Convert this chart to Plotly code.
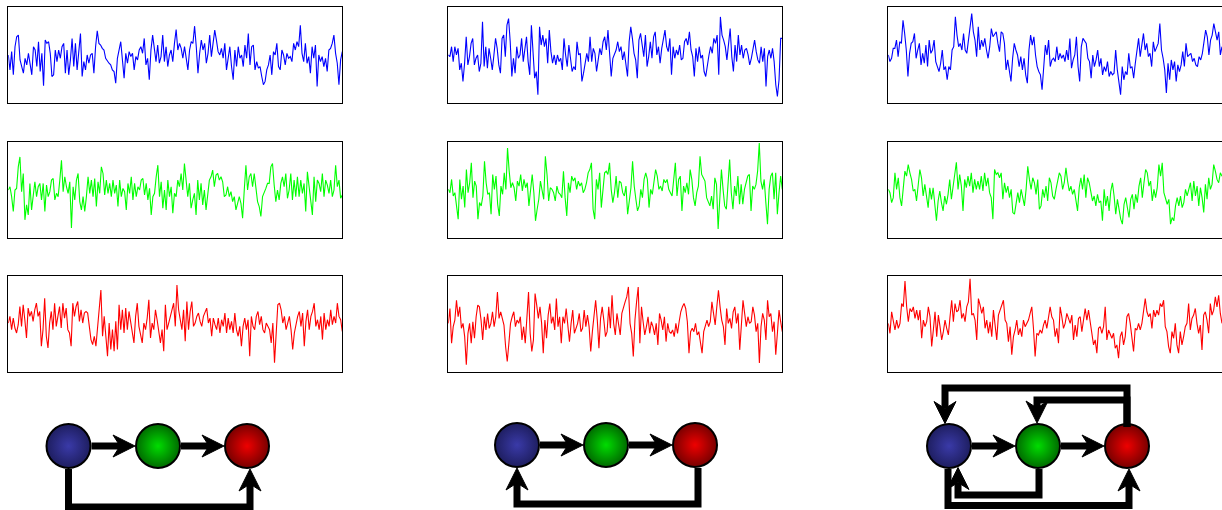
import plotly.graph_objects as go

# ---------------- time-series data (arbitrary units, panel range +-145) ----------------
blue_1 = [1,-44,11,-59,26,56,61,-14,-34,-54,-9,-29,6,-24,-59,26,16,-34,41,-49,6,-92,46,36,41,6,-64,-59,16,-19,16,-9,26,36,-54,16,-59,-14,51,-34,36,-44,16,66,-64,-19,-44,1,-24,1,6,-54,26,74,36,31,21,16,-9,-19,-24,-29,-44,-49,-84,-9,16,41,-14,-69,6,-24,11,-4,6,-44,-4,-14,16,26,6,51,-29,-9,-74,16,61,16,-19,31,-24,-4,61,-19,26,-34,1,16,-19,36,78,16,36,21,-9,26,-9,-44,16,41,36,88,26,-54,6,46,16,36,-24,6,61,-4,36,76,46,11,1,21,-9,36,-44,-9,26,-34,-74,16,-34,26,-9,1,-34,31,-9,66,-29,26,31,-44,-19,-39,-34,-64,-89,-79,-44,-29,1,-59,11,1,36,-34,-44,16,1,-29,6,-9,-4,-19,36,16,41,26,91,6,-19,36,-24,-4,-54,26,-9,31,-94,1,-19,-4,-34,-9,-49,16,21,36,61,6,-24,-89,-14,11]
green_1 = [-1,9,-21,-66,-1,4,69,99,-6,49,-91,-46,-76,19,-61,-21,24,-21,9,19,-31,19,-66,14,-21,-6,29,34,-31,-11,-21,29,89,-6,39,9,-11,24,-116,9,-31,29,49,-36,-61,-21,-66,-21,39,-11,29,-21,34,-51,24,-11,69,49,-16,29,-11,19,-21,29,-11,14,-51,29,-21,4,-6,-61,19,-11,39,-31,19,-21,9,-1,29,34,-16,19,-31,4,-76,-21,-11,39,74,-21,24,-56,-1,-61,29,-21,9,-71,-11,-21,29,9,49,-1,79,29,-21,19,-56,-31,-11,-76,29,-31,19,-46,-1,-61,-21,29,39,59,9,44,49,29,39,24,-21,-16,9,-21,-6,-36,-21,-61,-41,-21,-41,-86,-1,74,-1,39,49,9,49,4,-36,-51,-81,-21,-11,4,19,19,69,79,14,-36,-1,-31,19,39,9,49,-26,-1,49,-31,29,-21,39,-21,29,-11,19,-66,54,14,-21,-76,39,-36,29,19,-6,49,-21,29,14,-11,29,-21,-1,74,9,29,-26,-16]
red_1 = [2,22,-18,17,-13,-28,-3,52,-8,57,12,-43,47,22,37,7,42,62,22,37,-68,-18,77,-38,-73,2,37,-18,62,-8,22,52,-13,62,17,47,-18,-28,-68,62,22,52,67,7,42,2,32,37,32,-8,-48,-63,-38,-68,-18,42,102,-38,22,-38,-98,2,-78,-18,-83,7,-78,57,-18,42,-28,47,-18,37,2,-33,-58,22,62,-8,-33,-58,2,-18,17,72,-43,2,-18,42,12,-28,-58,-18,-83,57,-18,2,22,37,62,-8,117,42,7,-18,42,-53,67,-18,37,67,-8,2,22,32,7,-8,22,37,47,2,17,-38,17,-3,-18,17,-28,12,-8,32,-28,17,-18,7,-28,32,-18,-38,-8,-68,-8,17,-18,12,-98,22,-8,-18,22,37,-3,22,-18,-28,2,-8,-18,-58,2,-118,-18,57,62,42,2,22,-18,7,22,-18,-78,-28,2,22,37,-8,32,-68,7,42,-18,22,37,62,-8,12,-18,22,-48,32,-18,12,-8,42,-3,22,2,62,22,12,-23]

blue_2 = [1,-4,26,-19,26,1,21,-44,-24,-79,-24,56,-29,-4,36,51,-29,-9,1,-49,-24,101,-34,26,-39,21,-9,-44,1,51,21,-29,-54,51,61,-4,91,111,41,-64,-9,-54,26,-9,1,51,-19,26,56,-19,-59,91,21,-69,-49,-119,86,31,61,26,51,-24,76,11,-24,1,-29,1,-19,-9,-44,51,1,-34,31,-19,-49,-34,-44,41,1,6,-79,-54,-24,6,-19,56,-19,21,6,-49,-14,21,1,41,56,16,76,1,-64,-9,1,16,41,11,26,-14,11,-24,-64,41,86,51,6,-14,-69,46,66,31,-4,61,-34,-4,41,-9,56,71,1,26,-24,21,46,76,26,11,51,-59,26,-9,16,1,31,-14,-9,41,51,31,71,16,-4,-64,21,-19,26,-9,1,-49,-64,-24,1,26,6,51,36,61,-59,116,61,46,26,-14,41,81,-4,-49,31,-19,61,1,31,-9,16,21,1,-29,-9,26,46,11,-14,-24,26,-19,21,-94,-4,16,-9,21,-19,-89,-124,-74,51,51]
green_2 = [1,-9,31,-19,-9,-49,-89,31,-29,11,-54,61,-9,21,81,-24,26,11,-89,-39,-49,-19,86,21,-14,-9,-74,46,1,41,-44,-79,11,-14,51,1,126,56,6,21,6,-34,26,11,46,-4,31,6,21,-49,1,46,-9,-94,-59,-29,26,1,-29,101,46,-34,6,1,-9,-34,11,-9,-14,-24,56,-24,-79,21,-9,41,26,36,1,26,11,21,-9,1,21,51,61,81,-59,-89,31,1,51,-54,-4,51,56,46,81,1,-39,-9,41,-24,26,21,-9,-19,11,-74,-34,6,86,11,-29,-64,-49,1,-24,31,51,31,-54,1,-14,21,61,41,1,11,-4,31,21,31,1,-9,-19,31,81,-19,31,41,-64,11,-9,21,-14,61,31,-24,-49,-9,11,101,46,36,26,-24,-39,-49,-19,-59,36,16,-119,-29,61,1,-49,-59,21,91,-9,-59,11,-19,41,-44,16,-44,1,21,41,46,-64,11,1,16,56,141,26,1,31,-39,-104,1,41,51,-29,51,-74,-9,41,1]
red_2 = [1,46,-59,-9,11,71,21,51,-14,1,-39,-124,-29,1,-59,6,-44,21,56,51,11,-49,21,-19,31,-14,1,36,-9,21,96,16,36,11,-4,-69,-114,-59,1,21,36,-9,11,1,21,-49,-9,-59,31,96,-29,-84,-49,91,56,16,51,1,-89,11,-44,26,61,1,21,-19,76,-9,21,-59,21,1,46,-9,-54,1,41,-29,-14,1,31,-24,-14,41,-9,26,-9,-84,-24,21,71,11,-74,16,51,11,-39,-24,51,-14,86,1,-34,31,-9,-34,31,51,66,81,111,1,-29,-99,11,66,111,-59,51,6,-34,-9,21,-29,6,-9,-34,1,-64,31,11,-19,21,-54,1,-24,-29,-19,-39,1,-29,6,36,51,61,46,6,-89,-24,-14,-24,1,-34,-24,-59,-89,-24,-9,11,-9,6,66,26,-4,51,101,51,11,-9,-64,46,1,16,-14,36,51,1,31,-79,-9,71,31,-9,21,1,6,51,26,-24,1,-119,-9,31,11,-49,71,21,31,-24,6,-94,-29,41,6,-24]

blue_3 = [1,-19,-9,21,21,46,-4,41,36,106,66,16,-64,6,36,41,66,-9,16,36,-29,6,-24,31,-34,46,6,16,46,-19,-34,-49,-24,16,-44,-34,-74,-34,-44,16,26,116,61,26,36,16,66,16,6,41,76,126,71,46,-4,86,16,46,26,51,16,-9,26,81,56,66,71,36,11,71,66,36,-44,-14,-54,-79,-9,36,16,1,-34,-4,-44,-9,-59,-84,16,61,31,56,1,-34,-49,-59,-104,-24,31,1,46,-34,-14,-9,-19,26,-14,6,-9,1,-19,16,-14,51,-39,-14,1,56,-34,-79,26,51,41,36,-9,-19,-69,1,-34,-14,16,-34,-9,-59,-34,-49,-19,-64,-49,-59,-54,16,-44,-89,-119,-34,-74,-49,-59,6,-39,-34,-69,-24,11,51,-4,26,66,16,36,-4,6,-34,41,11,26,36,96,16,-9,-44,-114,-24,-74,-14,-44,-19,-79,-29,-49,-29,11,-34,36,-4,1,6,-19,-9,-29,-34,-4,-14,6,36,76,56,1,46,61,96,71,46,71,1,26]
green_3 = [1,-9,-39,-24,51,1,36,-24,-49,1,56,41,76,51,31,-4,1,-34,26,61,36,-19,16,-29,-54,6,-29,6,-49,-94,-34,-4,-39,-64,-19,-44,-14,31,-29,6,51,83,1,46,11,-64,31,6,41,11,51,-9,31,1,26,1,41,-4,51,11,36,-9,-24,-89,61,46,51,36,51,-29,21,-9,11,-24,1,-69,-74,-34,-9,-39,1,-24,-49,1,71,31,1,36,21,-14,31,-59,-49,1,-24,11,-34,36,21,-19,-29,1,26,51,41,1,21,66,26,-4,11,-14,1,-34,-64,6,36,1,46,-24,36,21,-9,-34,-19,-49,-14,-39,-34,-94,1,-49,-19,-64,-4,21,-19,-74,-29,-64,-89,-104,-44,-24,-54,-84,-29,-14,-59,-14,-39,11,36,-24,21,61,51,11,26,-34,1,-24,6,76,41,81,-9,-24,-44,-29,-104,-84,-94,-49,-24,-49,-19,-54,-39,1,-19,1,21,-34,26,-19,11,-49,6,-24,-69,16,-29,36,1,16,76,56,31,21,51,41]
red_3 = [1,-29,36,11,-19,11,-14,1,61,51,129,51,6,46,36,51,16,41,11,41,-44,11,-9,6,51,21,-69,-19,36,-39,26,-9,-49,-24,11,-14,-34,21,71,6,61,36,41,71,16,31,6,51,66,136,26,31,11,-49,76,56,31,51,-14,11,-29,6,-39,41,1,-49,26,41,56,71,11,1,-54,-9,-94,-39,-19,11,-34,-14,-39,11,-9,1,11,31,51,-14,-99,-29,-34,-19,-29,-4,11,-14,16,51,21,11,-39,-14,-59,51,21,-14,1,31,16,1,26,-49,-4,-39,16,21,-24,21,46,11,41,6,-39,-64,-49,-89,-14,-9,-29,-9,51,-49,-19,-34,-44,-29,-74,-64,-104,-39,-24,-64,-39,21,31,1,-49,-84,-14,-19,1,-19,1,41,76,36,21,31,-14,41,21,41,26,61,51,71,-9,-24,-69,-89,-24,-44,1,-64,-89,-24,-64,-39,-9,1,61,-19,16,26,46,1,-29,-4,-79,26,36,11,-29,61,26,41,81,51,86,31,1]

series = [
    [blue_1, green_1, red_1],
    [blue_2, green_2, red_2],
    [blue_3, green_3, red_3],
]
series_colors = ["#0000ff", "#00ff00", "#ff0000"]

# ---------------- network diagrams (figure pixel coordinates) ----------------
node_y = [446, 445, 446]
node_x = [[68.5, 158, 247], [517, 606, 695], [949, 1038, 1127]]
node_center_colors = ["#3a3aa8", "#00dc00", "#ee0000"]
node_edge_colors = ["#1e1e60", "#006a00", "#780000"]

# each edge: polyline waypoints, last point = arrow tip
edges = [
    [[(91.5, 446), (135, 446)], [(181, 446), (224, 446)],
     [(68.5, 469), (68.5, 507), (250, 507), (250, 469)]],
    [[(540, 445), (583, 445)], [(629, 445), (672, 445)],
     [(698, 468), (698, 504), (517, 504), (517, 468)]],
    [[(972, 446), (1015, 446)], [(1061, 446), (1104, 446)],
     [(1127, 427), (1127, 388), (945, 388), (945, 423.5)],
     [(1127, 427), (1127, 400), (1037, 400), (1037, 423)],
     [(1039, 469), (1039, 495), (958, 495), (958, 467.5)],
     [(948, 469), (948, 505.5), (1129, 505.5), (1129, 469)]],
]

W, H = 1222, 510
panel_left = [8.3, 448.3, 888.3]
panel_top = [7.3, 141.7, 275.7]
panel_w, panel_h = 334, 96

fig = go.Figure()
layout = dict(width=W, height=H, margin=dict(l=0, r=0, t=0, b=0),
              paper_bgcolor="white", plot_bgcolor="rgba(0,0,0,0)",
              showlegend=False, hovermode=False)

k = 0
for c in range(3):
    for r in range(3):
        k += 1
        vals = series[c][r]
        xa = "xaxis" if k == 1 else f"xaxis{k}"
        ya = "yaxis" if k == 1 else f"yaxis{k}"
        x0 = panel_left[c] / W
        x1 = min(1.0, (panel_left[c] + panel_w) / W)
        y1 = 1 - panel_top[r] / H
        y0 = 1 - (panel_top[r] + panel_h) / H
        layout[xa] = dict(domain=[x0, x1], range=[0, len(vals) - 1], showgrid=False,
                          zeroline=False, showticklabels=False, ticks="",
                          showline=True, mirror=True, linecolor="black", linewidth=1,
                          anchor=f"y{k}", fixedrange=True)
        layout[ya] = dict(domain=[y0, y1], range=[-145, 145], showgrid=False,
                          zeroline=False, showticklabels=False, ticks="",
                          showline=True, mirror=(c < 2), linecolor="black", linewidth=1,
                          anchor=f"x{k}", fixedrange=True)
        fig.add_trace(go.Scatter(x=list(range(len(vals))), y=vals, mode="lines",
                                 line=dict(color=series_colors[r], width=1.1),
                                 xaxis=f"x{k}", yaxis=f"y{k}"))

# overlay axes in pixel units for the diagrams
layout["xaxis10"] = dict(domain=[0, 1], range=[0, W], visible=False, anchor="y10", fixedrange=True)
layout["yaxis10"] = dict(domain=[0, 1], range=[H, 0], visible=False, anchor="x10", fixedrange=True)

# nodes (radial gradient: gradient.color is the centre colour)
for d in range(3):
    fig.add_trace(go.Scatter(
        x=node_x[d], y=[node_y[d]] * 3, mode="markers",
        marker=dict(size=44, color=node_edge_colors,
                    gradient=dict(type="radial", color=node_center_colors),
                    line=dict(color="black", width=2)),
        xaxis="x10", yaxis="y10"))

# edges with barbed arrowheads
L_HEAD, W_HEAD, NOTCH = 22, 22, 7
lx, ly, hx, hy = [], [], [], []
for d in range(3):
    for pts in edges[d]:
        (ax, ay), (tx, ty) = pts[-2], pts[-1]
        dx, dy = tx - ax, ty - ay
        n = (dx * dx + dy * dy) ** 0.5
        ux, uy = dx / n, dy / n
        px, py = -uy, ux
        back = L_HEAD - NOTCH
        line_pts = pts[:-1] + [(tx - ux * back, ty - uy * back)]
        for p in line_pts:
            lx.append(p[0]); ly.append(p[1])
        lx.append(None); ly.append(None)
        bx, by = tx - ux * L_HEAD, ty - uy * L_HEAD
        head = [(tx, ty), (bx + px * W_HEAD / 2, by + py * W_HEAD / 2),
                (tx - ux * back, ty - uy * back),
                (bx - px * W_HEAD / 2, by - py * W_HEAD / 2), (tx, ty)]
        for p in head:
            hx.append(p[0]); hy.append(p[1])
        hx.append(None); hy.append(None)

fig.add_trace(go.Scatter(x=lx, y=ly, mode="lines", line=dict(color="black", width=7),
                         xaxis="x10", yaxis="y10"))
fig.add_trace(go.Scatter(x=hx, y=hy, mode="lines", fill="toself", fillcolor="black",
                         line=dict(color="black", width=1), xaxis="x10", yaxis="y10"))

fig.update_layout(**layout)
fig.write_html("out.html", config={"displayModeBar": False, "staticPlot": True},
               post_script="document.body.style.margin='0';document.body.style.overflow='hidden';")
